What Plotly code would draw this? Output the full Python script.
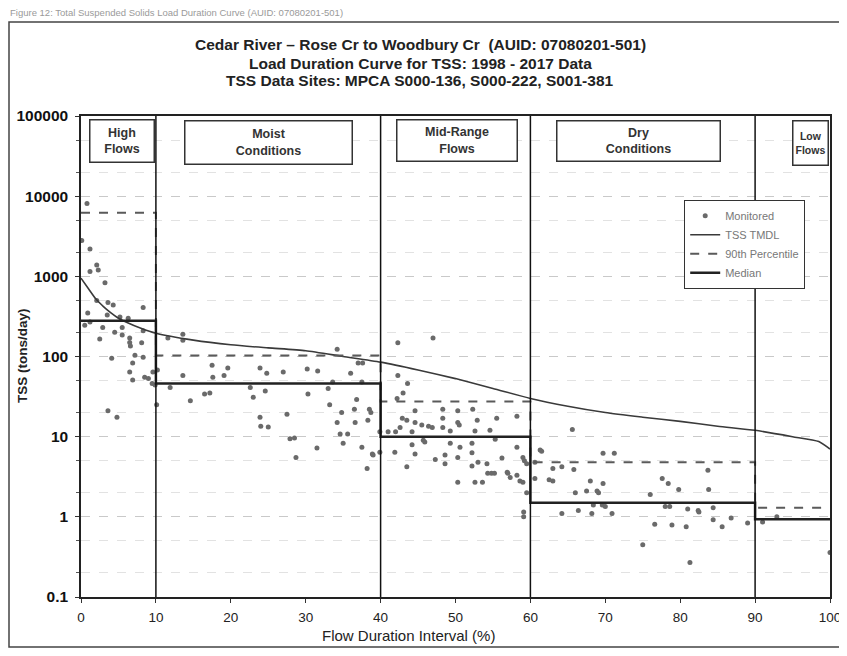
import plotly.graph_objects as go

# ---------------- data ----------------
zone_bounds = [0, 10, 40, 60, 90, 100]
zone_names = ["High<br>Flows", "Moist<br>Conditions", "Mid-Range<br>Flows", "Dry<br>Conditions", "Low<br>Flows"]
median_vals = [280, 46, 10, 1.5, 0.93]
p90_vals = [6200, 103, 27.5, 4.8, 1.3]

tmdl_x = [0, 1, 2, 3, 4, 5, 6, 8, 10, 15, 20, 25, 30, 35, 40, 45, 50, 55, 60, 65, 70, 75, 80, 85, 90, 95, 98.5, 100]
tmdl_y = [950, 700, 520, 420, 350, 300, 270, 225, 195, 160, 140, 128, 118, 100, 85, 68, 53, 40, 30, 24, 20, 17.5, 15.5, 13.5, 12, 10, 8.7, 7]

mon_x = [
    # high flows
    0.8, 0.1, 1.2, 2.1, 2.3, 1.2, 3.2, 2.1, 3.6, 4.3, 8.3, 0.9, 3.5, 5.2, 6.3, 0.5, 1.2, 2.9, 5.5, 8.3,
    4.5, 5.5, 2.5, 6.5, 6.5, 6.6, 8.1, 4.1, 7.2, 8.3, 6.9, 9.6, 6.5, 6.9, 8.5, 9.0, 9.5, 9.9, 3.6, 4.8,
    # moist
    13.6, 11.6, 13.6, 34.2, 17.5, 10.2, 23.9, 19.6, 30.2, 31.6, 27.0, 24.8, 19.1, 17.6, 13.6, 37.0, 37.6,
    36.0, 33.6, 37.5, 11.9, 22.6, 24.6, 17.2, 16.5, 30.3, 33.0, 23.0, 14.6, 10.1, 33.2, 36.8, 34.8, 36.5,
    38.5, 38.7, 27.5, 23.9, 24.0, 25.0, 34.2, 36.6, 38.3, 34.6, 35.6, 27.9, 28.5, 35.0, 37.5, 31.5, 39.0,
    28.7, 38.2, 39.9, 39.9, 38.9,
    # mid-range
    42.3, 47.0, 42.3, 43.6, 43.0, 42.2, 44.6, 48.3, 50.3, 52.3, 50.3, 50.5, 42.9, 43.5, 44.6, 45.5, 46.9,
    46.4, 48.3, 48.3, 42.6, 55.5, 58.2, 52.9, 41.0, 42.0, 44.2, 49.3, 52.6, 54.6, 45.7, 45.9, 44.2, 49.3,
    50.6, 52.2, 55.3, 58.2, 41.9, 44.6, 48.6, 50.3, 52.2, 59.0, 59.2, 59.5, 47.3, 43.5, 48.6, 52.2, 53.0,
    54.2, 54.3, 54.8, 55.2, 56.9, 57.3, 58.2, 56.2, 50.3, 52.6, 53.6, 59.0, 59.5, 59.1, 59.1, 57.0, 58.6,
    # dry
    65.6, 69.7, 71.2, 61.5, 61.3, 60.6, 63.0, 64.2, 60.6, 62.5, 63.0, 68.0, 69.7, 68.9, 69.1, 67.5, 66.0,
    77.6, 78.4, 79.8, 83.8, 76.0, 68.4, 69.6, 70.0, 70.9, 68.2, 66.4, 64.2, 78.0, 78.6, 81.0, 82.4, 82.5,
    84.4, 76.6, 78.9, 80.8, 84.4, 85.6, 86.8, 89.0, 75.0, 81.3, 83.7, 65.8,
    # low
    92.9, 91.0, 100.0,
]
mon_y = [
    # high flows
    8100, 2800, 2200, 1380, 1200, 1150, 830, 500, 470, 440, 410, 350, 330, 310, 300, 245, 270, 230, 230, 210,
    200, 185, 165, 170, 150, 135, 148, 95, 104, 98, 83, 64, 64, 51, 55, 53, 46, 44, 21, 17.5,
    # moist
    190, 170, 160, 123, 78, 68, 72, 72, 70, 66, 64, 62, 58, 55, 58, 83, 83,
    62, 48, 48, 41, 41, 37, 35, 34, 34, 40, 31, 28, 25, 25, 29, 20, 22,
    22, 20, 19, 17.5, 13.5, 13.2, 15, 15, 16, 10.8, 10.8, 9.4, 9.6, 8.3, 7.4, 7.2, 5.9,
    5.5, 4.0, 11.5, 6.4, 6.1,
    # mid-range
    148, 170, 58, 46, 35, 30, 21, 22, 21, 22, 15, 14, 17, 16, 15, 14, 13,
    13.5, 17, 13, 13, 17, 18, 16, 11.5, 11.5, 11.5, 11.8, 11.8, 12, 9.0, 8.6, 7.9, 8.3,
    7.4, 8.3, 9.3, 7.4, 6.4, 6.1, 5.9, 5.5, 6.3, 5.5, 5.0, 4.6, 5.2, 4.2, 4.6, 4.3, 4.8,
    4.6, 3.5, 3.5, 3.5, 3.6, 3.1, 3.3, 5.4, 2.7, 2.7, 2.7, 2.7, 2.0, 1.15, 1.0, 3.5, 2.8,
    # dry
    12.3, 6.2, 6.2, 6.6, 6.8, 4.8, 4.0, 4.2, 3.0, 2.9, 2.8, 2.8, 2.6, 2.1, 2.0, 2.1, 2.0,
    3.0, 2.6, 2.2, 2.2, 1.9, 1.4, 1.4, 1.35, 1.1, 1.1, 1.2, 1.1, 1.35, 1.35, 1.25, 1.2, 1.15,
    1.3, 0.81, 0.79, 0.75, 0.92, 0.75, 0.97, 0.84, 0.45, 0.27, 3.8, 3.9,
    # low
    1.0, 0.86, 0.36,
]

ytick_vals = [0.1, 1, 10, 100, 1000, 10000, 100000]
ytick_text = ["0.1", "1", "10", "100", "1000", "10000", "100000"]

title_lines = [
    "Cedar River \u2013 Rose Cr to Woodbury Cr  (AUID: 07080201-501)",
    "Load Duration Curve for TSS: 1998 - 2017 Data",
    "TSS Data Sites: MPCA S000-136, S000-222, S001-381",
]
caption = "Figure 12: Total Suspended Solids Load Duration Curve (AUID: 07080201-501)"

# ---------------- figure ----------------
# The page body has an 8px margin, so the figure is drawn smaller and
# all reference pixel positions are shifted by -8.
OFF = 8
W, H = 839, 640
L, T = 81 - OFF, 116 - OFF
pw, ph = 749, 481
R, B = W - L - pw, H - T - ph


def px2paper_x(px):
    return (px - OFF - L) / pw


def py2paper_y(py):
    return (T + ph - (py - OFF)) / ph


fig = go.Figure()

step_x = zone_bounds
med_y = median_vals + [median_vals[-1]]
p90_y = p90_vals + [p90_vals[-1]]

fig.add_trace(go.Scatter(x=mon_x, y=mon_y, mode="markers", name="Monitored",
                         marker=dict(size=5, color="#6a6a6a", line=dict(width=0)),
                         legendgroup="a"))
fig.add_trace(go.Scatter(x=tmdl_x, y=tmdl_y, mode="lines", name="TSS TMDL",
                         line=dict(color="#3a3a3a", width=1.6, shape="spline", smoothing=0.6),
                         legendgroup="b"))
fig.add_trace(go.Scatter(x=step_x, y=p90_y, mode="lines", name="90th Percentile",
                         line=dict(color="#5a5a5a", width=2, dash="dash", shape="hv"),
                         legendgroup="c"))
fig.add_trace(go.Scatter(x=step_x, y=med_y, mode="lines", name="Median",
                         line=dict(color="#222222", width=2.5, shape="hv"),
                         legendgroup="d"))

# zone dividers
for xb in zone_bounds[1:-1]:
    fig.add_shape(type="line", xref="x", yref="paper", x0=xb, x1=xb, y0=0, y1=1,
                  line=dict(color="#111111", width=1.5))

# zone labels (boxes)
box_specs = [  # (left px, right px, top px, bottom px, font size) in reference pixels
    (89, 154, 119, 162, 12.5),
    (184, 352, 121, 165, 12.5),
    (396, 517, 119, 161, 12.5),
    (556, 720, 120, 161, 12.5),
    (792, 828, 120, 165, 10.5),
]
for name, (x0, x1, y0, y1, fs) in zip(zone_names, box_specs):
    fig.add_annotation(xref="paper", yref="paper",
                       x=px2paper_x((x0 + x1) / 2), y=py2paper_y((y0 + y1) / 2),
                       xanchor="center", yanchor="middle",
                       width=x1 - x0 - 4, height=y1 - y0 - 4,
                       text="<b>" + name + "</b>", showarrow=False, align="center",
                       font=dict(family="Liberation Sans, Arial", size=fs, color="#333333"),
                       bordercolor="#333333", borderwidth=1.5, borderpad=1,
                       bgcolor="white")

# titles
for line, py in zip(title_lines, [45, 63, 81]):
    fig.add_annotation(xref="paper", yref="paper", x=px2paper_x(420), y=py2paper_y(py),
                       xanchor="center", yanchor="middle", showarrow=False,
                       text="<b>" + line + "</b>",
                       font=dict(family="Liberation Sans, Arial", size=15.5, color="#222222"))

fig.add_annotation(xref="paper", yref="paper", x=px2paper_x(8), y=py2paper_y(12),
                   xanchor="left", yanchor="middle", showarrow=False, text=caption,
                   font=dict(family="Liberation Sans, Arial", size=9.5, color="#9a9a9a"))

# axis titles
fig.add_annotation(xref="paper", yref="paper", x=px2paper_x(22), y=py2paper_y(356),
                   xanchor="center", yanchor="middle", showarrow=False, textangle=-90,
                   text="<b>TSS (tons/day)</b>",
                   font=dict(family="Liberation Sans, Arial", size=13.5, color="#222222"))
fig.add_annotation(xref="paper", yref="paper", x=px2paper_x(408), y=py2paper_y(635),
                   xanchor="center", yanchor="middle", showarrow=False,
                   text="Flow Duration Interval (%)",
                   font=dict(family="Liberation Sans, Arial", size=15, color="#222222"))

# outer frame
fig.add_shape(type="rect", xref="paper", yref="paper",
              x0=px2paper_x(9), x1=px2paper_x(840), y0=py2paper_y(647), y1=py2paper_y(22),
              line=dict(color="#444444", width=1.5), layer="below")

fig.update_layout(
    width=W, height=H,
    margin=dict(l=L, r=R, t=T, b=B, autoexpand=False),
    paper_bgcolor="white", plot_bgcolor="white",
    font=dict(family="Liberation Sans, Arial", color="#222222"),
    legend=dict(x=px2paper_x(684), y=py2paper_y(200), xanchor="left", yanchor="top",
                bgcolor="white", bordercolor="#333333", borderwidth=1.2,
                font=dict(size=11, color="#777777"), tracegroupgap=9,
                traceorder="normal", itemwidth=30),
    showlegend=True,
)
fig.update_xaxes(range=[0, 100], dtick=10, showline=True, linecolor="#222222", linewidth=1.5,
                 mirror=True, ticks="outside", ticklen=4, tickcolor="#333333",
                 showgrid=False, zeroline=False, ticklabelstandoff=3,
                 tickfont=dict(size=13.5, color="#222222"))
fig.update_yaxes(type="log", range=[-1, 5], tickvals=ytick_vals, ticktext=ytick_text,
                 showline=True, linecolor="#222222", linewidth=1.5, mirror=True,
                 ticks="outside", ticklen=4, tickcolor="#333333", ticklabelstandoff=4,
                 showgrid=True, gridcolor="#c9c9c9", griddash="dash", gridwidth=1,
                 minor=dict(dtick="D2", showgrid=True, gridcolor="#e2e2e2", griddash="dash",
                            ticks="outside", ticklen=3, tickcolor="#555555"),
                 zeroline=False, tickfont=dict(size=15.5, color="#111111", weight="bold"))

fig.write_html("out.html")
